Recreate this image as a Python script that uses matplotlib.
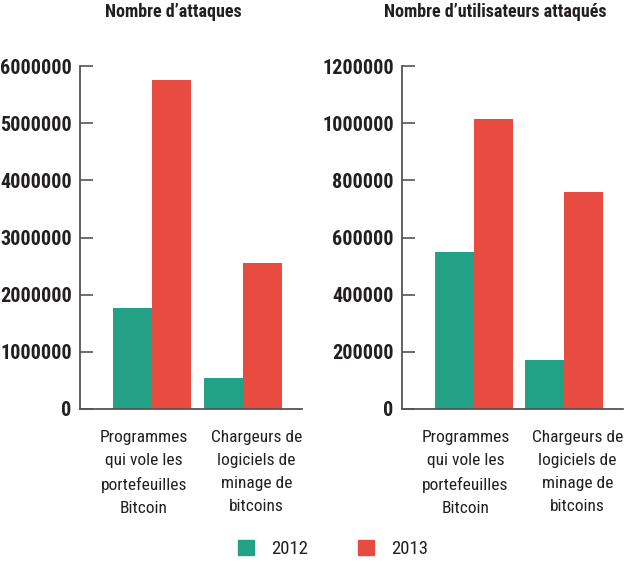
import matplotlib
matplotlib.use('Agg')
import matplotlib.pyplot as plt
from matplotlib.patches import Patch

categories = ['Programmes\nqui vole les\nportefeuilles\nBitcoin',
              'Chargeurs de\nlogiciels de\nminage de\nbitcoins']
years = ['2012', '2013']
attaques_2012 = [1760000, 540000]
attaques_2013 = [5750000, 2550000]
users_2012 = [550000, 170000]
users_2013 = [1015000, 760000]
titles = ['Nombre d\u2019attaques', 'Nombre d\u2019utilisateurs attaqu\u00e9s']

green = '#22a186'
red = '#e84c40'
axis_col = '#555555'
txt_col = '#231f20'
cond = ['Roboto Condensed', 'DejaVu Sans']
label_shift = [-0.09, 0.15]  # the category labels sit a bit off the bar groups

fig = plt.figure(figsize=(6.28, 5.63), dpi=100)
ax1 = fig.add_axes([80 / 628, 154 / 563, 222 / 628, 343 / 563])
ax2 = fig.add_axes([402 / 628, 154 / 563, 221 / 628, 343 / 563])


def draw_panel(ax, v12, v13, ymax, step):
    x = range(len(categories))
    w = 0.43
    ax.bar([i - w / 2 for i in x], v12, w, color=green)
    ax.bar([i + w / 2 for i in x], v13, w, color=red)
    ax.set_xlim(-0.79, 1.65)
    ax.set_ylim(0, ymax)
    ax.set_yticks(range(0, ymax + 1, step))
    ax.set_yticklabels([str(v) for v in range(0, ymax + 1, step)],
                       fontfamily=cond, fontweight='bold', fontsize=14.5,
                       color=txt_col)
    ax.set_xticks([i + d for i, d in zip(x, label_shift)])
    ax.set_xticklabels(categories, fontfamily=cond, fontsize=12.5,
                       color=txt_col, linespacing=1.68, va='top')
    for s in ['top', 'right']:
        ax.spines[s].set_visible(False)
    for s in ['left', 'bottom']:
        ax.spines[s].set_color(axis_col)
        ax.spines[s].set_linewidth(1.3)
    ax.tick_params(axis='y', direction='in', length=9, width=1.2,
                   color=axis_col, pad=6)
    ax.tick_params(axis='x', length=0, pad=15)


draw_panel(ax1, attaques_2012, attaques_2013, 6000000, 1000000)
draw_panel(ax2, users_2012, users_2013, 1200000, 200000)

fig.text(173 / 628, 1 - 12 / 563, titles[0], ha='center', va='center',
         fontfamily=cond, fontweight='bold', fontsize=13, color=txt_col)
fig.text(495 / 628, 1 - 12 / 563, titles[1], ha='center', va='center',
         fontfamily=cond, fontweight='bold', fontsize=13, color=txt_col)

handles = [Patch(color=green, label=years[0]), Patch(color=red, label=years[1])]
fig.legend(handles=handles, loc='center', bbox_to_anchor=(333 / 628, 1 - 549 / 563),
           ncol=2, frameon=False, prop={'family': cond, 'size': 13.5},
           handlelength=0.85, handleheight=0.85, handletextpad=0.9,
           columnspacing=2.7, labelcolor=txt_col)

fig.savefig('out.png', dpi=100)
